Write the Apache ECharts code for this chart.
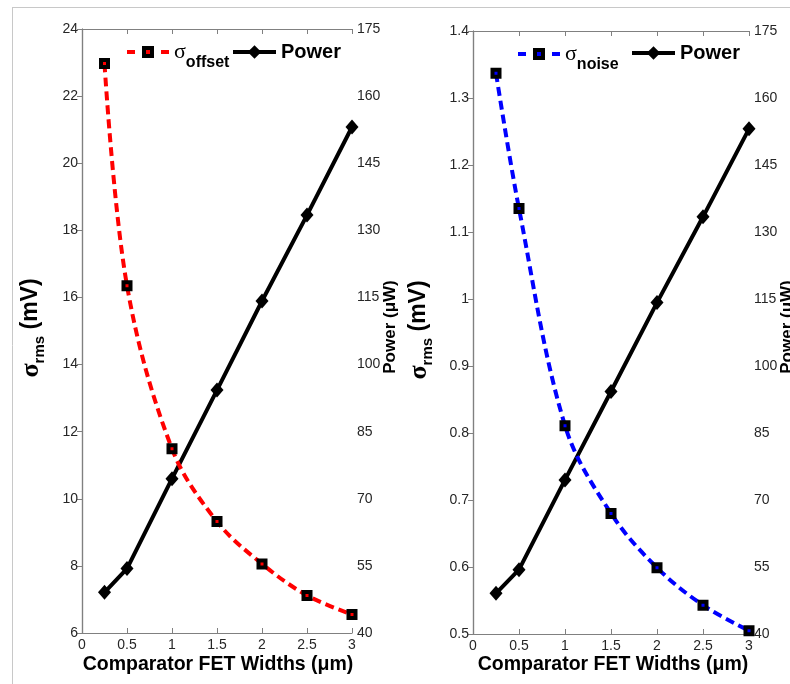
<!DOCTYPE html>
<html>
<head>
<meta charset="utf-8">
<script src="https://cdn.jsdelivr.net/npm/echarts@6/dist/echarts.min.js"></script>
<style>
  html, body { margin: 0; padding: 0; background: #ffffff; }
  #chart { width: 790px; height: 684px; }
</style>
</head>
<body>
<div id="chart"></div>
<script>
// Comparator FET width sweep
const widths = [0.25, 0.5, 1, 1.5, 2, 2.5, 3];           // µm
const sigmaOffset = [22.97, 16.35, 11.49, 9.32, 8.06, 7.12, 6.55]; // mV
const sigmaNoise = [1.337, 1.135, 0.811, 0.680, 0.599, 0.543, 0.505]; // mV
const powerUW = [49.1, 54.4, 74.5, 94.3, 114.2, 133.4, 153.1];     // µW

// Axis ranges and tick values
const xRange = { min: 0, max: 3, interval: 0.5 };
const offsetRange = { min: 6, max: 24, interval: 2 };
const noiseRange = { min: 0.5, max: 1.4, interval: 0.1 };
const powerRange = { min: 40, max: 175 };
const powerTicks = [40, 55, 70, 85, 100, 115, 130, 145, 160, 175];

const FONT = '"Liberation Sans", Arial, sans-serif';
const SERIF = '"Liberation Serif", "DejaVu Serif", serif';
const AXIS_GRAY = '#808080';
const LABEL_COLOR = '#262626';

const pairs = (ys) => widths.map((x, i) => [x, ys[i]]);

function bottomX(gridIndex) {
  return {
    type: 'value', gridIndex, position: 'bottom',
    min: xRange.min, max: xRange.max, interval: xRange.interval,
    axisLine: { lineStyle: { color: AXIS_GRAY, width: 1.2 } },
    axisTick: { inside: true, length: 5, lineStyle: { color: AXIS_GRAY } },
    axisLabel: { color: LABEL_COLOR, fontSize: 14, fontFamily: FONT, margin: 5 },
    splitLine: { show: false }
  };
}
function topX(gridIndex) {
  return {
    type: 'value', gridIndex, position: 'top',
    min: xRange.min, max: xRange.max, interval: xRange.interval,
    axisLine: { lineStyle: { color: AXIS_GRAY, width: 1.2 } },
    axisTick: { inside: true, length: 5, lineStyle: { color: AXIS_GRAY } },
    axisLabel: { show: false },
    splitLine: { show: false }
  };
}
function leftY(gridIndex, range) {
  return {
    type: 'value', gridIndex, position: 'left',
    min: range.min, max: range.max, interval: range.interval,
    axisLine: { show: true, lineStyle: { color: AXIS_GRAY, width: 1.2 } },
    axisTick: { show: true, inside: false, length: 4, lineStyle: { color: AXIS_GRAY } },
    axisLabel: { color: LABEL_COLOR, fontSize: 14, fontFamily: FONT, margin: 4 },
    splitLine: { show: false }
  };
}
function rightY(gridIndex) {
  return {
    type: 'value', gridIndex, position: 'right',
    min: powerRange.min, max: powerRange.max,
    axisLine: { show: true, lineStyle: { color: AXIS_GRAY, width: 1.2 } },
    axisTick: { show: true, inside: true, length: 5, customValues: powerTicks,
                lineStyle: { color: AXIS_GRAY } },
    axisLabel: { color: LABEL_COLOR, fontSize: 14, fontFamily: FONT, margin: 5,
                 customValues: powerTicks },
    splitLine: { show: false }
  };
}

function sigmaSeries(name, xi, yi, data, color) {
  return {
    name, type: 'line', xAxisIndex: xi, yAxisIndex: yi,
    data: pairs(data), smooth: 0.35, clip: false, z: 4,
    symbol: 'rect', symbolSize: 7,
    itemStyle: { color, borderColor: '#000000', borderWidth: 4 },
    lineStyle: { color, width: 4, type: [9, 5] }
  };
}
function powerSeries(xi, yi) {
  return {
    name: 'Power', type: 'line', xAxisIndex: xi, yAxisIndex: yi,
    data: pairs(powerUW), clip: false, z: 3,
    symbol: 'diamond', symbolSize: [13, 15],
    itemStyle: { color: '#000000' },
    lineStyle: { color: '#000000', width: 4 }
  };
}

const sigmaLegendRich = {
  s: { fontSize: 22, fontFamily: SERIF, color: '#000', lineHeight: 38, verticalAlign: 'middle' },
  sub: { fontSize: 16, fontWeight: 'bold', fontFamily: FONT, color: '#000', lineHeight: 16, verticalAlign: 'bottom' }
};
function sigmaLegend(name, sub, left, top, color) {
  return {
    data: [name], left, top, padding: 0, itemWidth: 42, itemHeight: 10, itemGap: 0,
    selectedMode: false,
    itemStyle: { color, borderColor: '#000000', borderWidth: 4 },
    lineStyle: { color, width: 4, type: [8, 26] },
    formatter: () => '{s|σ}{sub|' + sub + '}',
    textStyle: { rich: sigmaLegendRich }
  };
}
function powerLegend(left, top) {
  return {
    data: ['Power'], left, top, padding: 0, itemWidth: 43, itemHeight: 17,
    selectedMode: false,
    itemStyle: { color: '#000000', borderWidth: 0 },
    lineStyle: { color: '#000000', width: 4, type: 'solid' },
    textStyle: { fontSize: 20, fontWeight: 'bold', fontFamily: FONT, color: '#000', lineHeight: 22 }
  };
}

const axisNameRich = {
  s: { fontSize: 26, fontWeight: 'bold', fontFamily: SERIF, color: '#000', lineHeight: 32, verticalAlign: 'middle' },
  sub: { fontSize: 15, fontWeight: 'bold', fontFamily: FONT, color: '#000', lineHeight: 15, verticalAlign: 'bottom' },
  u: { fontSize: 23, fontWeight: 'bold', fontFamily: FONT, color: '#000', lineHeight: 32, verticalAlign: 'middle' }
};
function sigmaAxisName(x, y) {
  return {
    type: 'text', x, y, rotation: Math.PI / 2,
    style: { text: '{s|σ}{sub|rms}{u| (mV)}', rich: axisNameRich, align: 'center', verticalAlign: 'middle' }
  };
}
function powerAxisName(x, y) {
  return {
    type: 'text', x, y, rotation: Math.PI / 2,
    style: { text: 'Power (μW)', font: 'bold 17px ' + FONT, fill: '#000', align: 'center', verticalAlign: 'middle' }
  };
}
function widthAxisName(x, y) {
  return {
    type: 'text', x, y,
    style: { text: 'Comparator FET Widths (μm)', font: 'bold 19.5px ' + FONT, fill: '#000', align: 'center', verticalAlign: 'middle' }
  };
}

const chart = echarts.init(document.getElementById('chart'), null, { renderer: 'canvas' });
chart.setOption({
  animation: false,
  backgroundColor: '#ffffff',
  grid: [
    { left: 82, top: 29, width: 270, height: 604 },
    { left: 473, top: 31, width: 276, height: 603 }
  ],
  xAxis: [bottomX(0), topX(0), bottomX(1), topX(1)],
  yAxis: [leftY(0, offsetRange), rightY(0), leftY(1, noiseRange), rightY(1)],
  legend: [
    sigmaLegend('σoffset', 'offset', 125, 41, '#ff0000'),
    powerLegend(231, 41),
    sigmaLegend('σnoise', 'noise', 516, 43, '#0000ff'),
    powerLegend(630, 42)
  ],
  series: [
    powerSeries(0, 1),
    sigmaSeries('σoffset', 0, 0, sigmaOffset, '#ff0000'),
    powerSeries(2, 3),
    sigmaSeries('σnoise', 2, 2, sigmaNoise, '#0000ff')
  ],
  graphic: [
    { type: 'line', shape: { x1: 12, y1: 7.5, x2: 790, y2: 7.5 }, style: { stroke: '#c8c8c8', lineWidth: 1 } },
    { type: 'line', shape: { x1: 12.5, y1: 7, x2: 12.5, y2: 684 }, style: { stroke: '#c8c8c8', lineWidth: 1 } },
    sigmaAxisName(31, 328),
    powerAxisName(390, 327),
    sigmaAxisName(419, 330),
    powerAxisName(787, 327),
    widthAxisName(218, 665),
    widthAxisName(613, 665)
  ]
});
</script>
</body>
</html>
